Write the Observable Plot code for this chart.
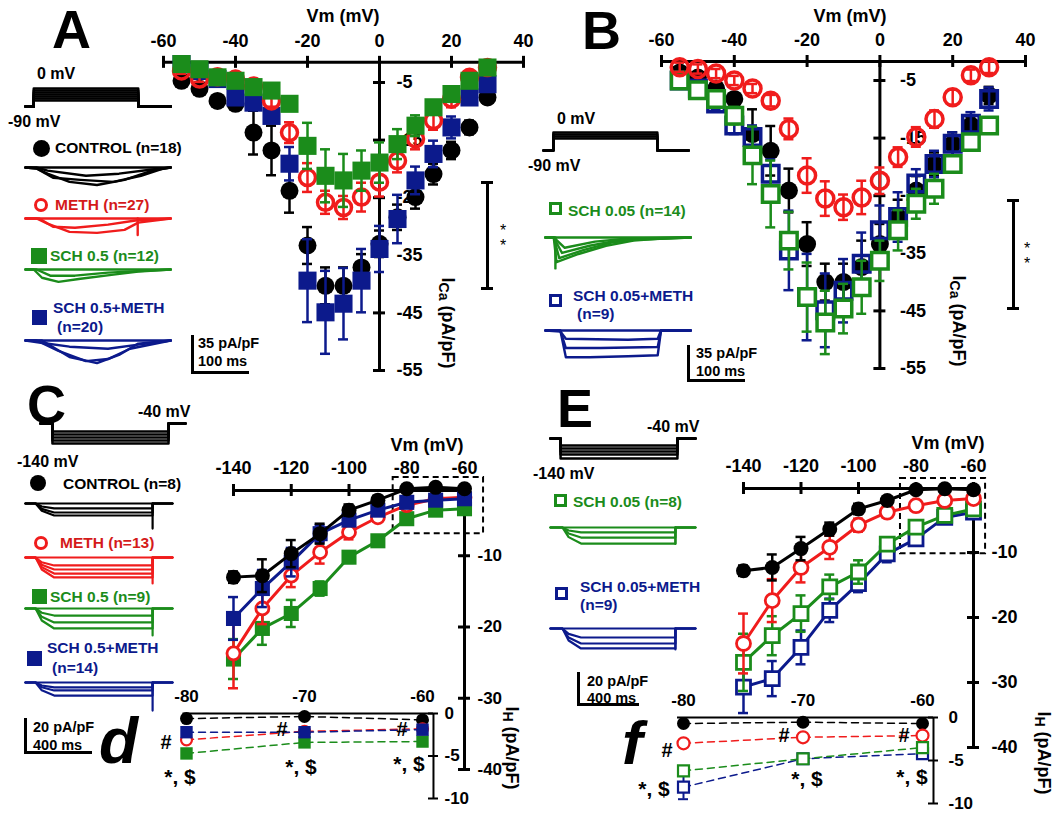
<!DOCTYPE html>
<html><head><meta charset="utf-8">
<script src="https://cdn.jsdelivr.net/npm/d3@7"></script>
<script src="https://cdn.jsdelivr.net/npm/@observablehq/plot@0.6"></script>
<style>
body{margin:0;background:#fff;}
#fig{position:relative;width:1063px;height:815px;overflow:hidden;font-family:"Liberation Sans",Arial,sans-serif;font-weight:bold;background:#fff;}
#fig svg{position:absolute;left:0;top:0;}
.lbl{position:absolute;white-space:nowrap;line-height:1;}
.lbl sub{font-size:0.78em;vertical-align:-0.25em;}
.blk{position:absolute;background:#000;}
</style></head><body><div id="fig"></div><script>
// ---------------- DATA ----------------
const vIV = [-55,-50,-45,-40,-35,-30,-25,-20,-15,-10,-5,0,5,10,15,20,25,30];
// Panel A (I_Ca, pA/pF)
const A_ctrl    = [-4.7,-6.1,-8.2,-8.7,-13.7,-16.8,-23.8,-33.3,-40.3,-40.3,-37.1,-33.0,-28.4,-24.9,-20.9,-16.8,-12.8,-7.6];
const A_ctrl_se = [0.4,0.4,0.6,0.8,3.8,4.3,3.8,3.2,3.2,3.2,2.3,2.3,2.2,2.0,1.8,1.5,1.2,1.0];
const A_meth    = [-3.0,-4.4,-4.0,-4.4,-5.6,-8.2,-13.7,-21.5,-25.8,-26.7,-24.9,-22.3,-18.6,-14.8,-11.6,-7.9,-4.1,-2.4];
const A_meth_se = [0.5,0.5,0.6,0.6,0.8,1.0,1.8,2.5,2.0,2.0,2.5,2.5,2.0,1.8,1.6,1.4,1.0,1.0];
const A_sch     = [-1.8,-2.7,-4.1,-4.7,-5.8,-6.4,-8.7,-16.0,-21.2,-22.0,-20.3,-18.9,-15.7,-12.5,-9.3,-7.0,-4.7,-2.4];
const A_sch_se  = [0.3,0.3,0.4,0.5,0.5,0.6,0.8,4.0,4.6,4.6,3.5,3.5,2.6,1.8,1.2,1.0,0.8,0.6];
const A_schm    = [-1.8,-3.0,-4.4,-7.6,-8.5,-10.8,-19.1,-39.4,-44.9,-43.4,-39.4,-33.9,-28.7,-22.0,-17.4,-12.8,-7.6,-5.3];
const A_schm_se = [0.3,0.5,0.6,0.8,1.0,1.2,2.9,7.2,7.2,6.2,5.5,4.0,4.2,2.4,2.3,1.9,1.2,1.0];
// Panel B
const B_ctrl    = [-3.6,-4.5,-6.4,-8.2,-14.3,-17.2,-24.1,-33.4,-40.0,-40.0,-37.4,-33.4,-28.7,-24.1,-19.5,-16.0,-12.8,-7.6];
const B_ctrl_se = [0.5,0.5,0.8,1.0,4.3,4.3,3.8,3.8,3.2,3.2,4.6,3.5,3.0,2.5,2.0,2.0,1.5,1.5];
const B_meth    = [-2.7,-3.0,-3.8,-5.0,-6.4,-8.5,-13.4,-21.5,-25.5,-27.0,-25.3,-22.4,-18.3,-14.8,-11.7,-7.9,-4.1,-2.7];
const B_meth_se = [0.8,0.8,0.8,0.8,0.8,1.0,1.8,3.0,3.0,2.2,2.9,2.3,1.7,1.7,1.5,1.3,1.0,1.0];
const B_sch     = [-5.0,-6.7,-8.2,-11.1,-18.0,-24.7,-32.8,-42.6,-47.0,-44.6,-40.9,-36.3,-31.0,-26.4,-23.8,-19.5,-15.7,-12.8];
const B_sch_se  = [0.5,0.8,1.0,1.5,5.0,5.8,5.0,6.0,5.5,4.3,4.6,3.5,3.5,2.6,2.6,1.5,1.2,1.0];
const B_schm    = [-5.0,-6.4,-9.0,-12.8,-14.8,-21.2,-34.5,-42.6,-44.9,-41.5,-36.8,-31.0,-28.7,-22.9,-19.5,-16.0,-12.5,-8.2];
const B_schm_se = [0.5,0.8,1.0,1.5,2.0,2.5,6.9,7.5,6.4,5.5,5.4,4.3,4.3,2.5,2.3,2.0,2.0,2.0];
// Panels C and E (I_H, pA/pF)
const vH = [-140,-130,-120,-110,-100,-90,-80,-70,-60];
const C_ctrl    = [-13.0,-12.8,-9.7,-6.9,-3.6,-2.2,-0.6,-0.4,-0.6];
const C_ctrl_se = [0.8,2.3,1.9,1.4,0.8,0.6,0.4,0.4,0.4];
const C_meth    = [-23.7,-17.4,-12.8,-9.5,-6.7,-4.6,-2.9,-2.0,-1.8];
const C_meth_se = [4.9,2.2,1.6,1.6,1.0,0.6,0.5,0.5,0.5];
const C_sch     = [-24.5,-20.2,-18.1,-14.6,-10.2,-7.9,-4.8,-3.6,-3.4];
const C_sch_se  = [2.8,2.3,1.9,1.0,0.8,0.6,0.5,0.5,0.5];
const C_schm    = [-18.8,-14.6,-10.9,-6.9,-5.0,-3.6,-2.5,-2.2,-2.0];
const C_schm_se = [3.0,2.6,2.0,1.2,0.8,0.6,0.5,0.5,0.5];
const E_ctrl    = [-12.8,-12.3,-9.4,-6.4,-3.3,-2.0,-0.35,-0.2,-0.35];
const E_ctrl_se = [0.8,2.0,1.8,1.0,0.8,0.5,0.3,0.3,0.3];
const E_meth    = [-24.0,-17.4,-12.3,-9.2,-5.8,-3.8,-2.8,-2.0,-1.7];
const E_meth_se = [4.6,3.3,2.3,1.8,1.0,0.8,0.6,0.5,0.5];
const E_sch     = [-26.9,-22.8,-19.4,-15.3,-13.0,-8.7,-6.1,-4.3,-3.3];
const E_sch_se  = [4.4,3.0,2.8,1.9,1.8,1.0,0.8,0.6,0.5];
const E_schm    = [-30.7,-29.4,-24.6,-18.9,-14.8,-10.2,-7.9,-4.6,-3.8];
const E_schm_se = [4.0,2.7,2.6,1.8,1.3,1.3,0.8,0.5,0.5];
// Insets d and f
const vIn = [-80,-70,-60];
const d_ctrl = [-0.6,-0.35,-0.75], d_meth = [-3.1,-2.1,-1.8], d_sch = [-4.7,-3.4,-3.3], d_schm = [-2.2,-2.2,-1.9];
const f_ctrl = [-0.7,-0.55,-0.7], f_meth = [-3.0,-2.3,-2.1], f_sch = [-6.2,-4.8,-3.5], f_schm = [-8.1,-4.8,-4.2], f_schm_se = [1.4,0,0];
// Tick values
const ticksIVx = [-60,-40,-20,0,20,40], ticksIVy = [-5,-15,-25,-35,-45,-55];
const ticksHx = [-140,-120,-100,-80,-60], ticksHy = [-10,-20,-30,-40];
const ticksInY = [0,-5,-10];
// zoom boxes (data coords) marking the inset regions
const boxC = [{x1:-84.7,x2:-53.4,y1:1.0,y2:-6.9}];
const boxE = [{x1:-85.4,x2:-55.8,y1:1.4,y2:-10.2}];
// Current traces, [time ms, current pA/pF]
const trA_ctrl = [[[0,0],[20,-1],[40,-6],[80,-14],[130,-17],[180,-12],[230,-3],[264,0]],
                  [[0,0],[20,-1],[50,-10],[100,-12],[160,-14],[210,-8],[250,-1],[264,0]],
                  [[0,0],[20,0],[40,-3],[110,-8],[170,-6],[230,-2],[264,0]],
                  [[0,0],[264,0]]];
const trA_meth = [[[0,0],[20,0],[40,-5],[80,-13],[130,-14],[180,-11],[205,-4],[264,0]],
                  [[0,0],[25,0],[50,-8],[90,-9],[150,-6],[200,-2],[264,0]],
                  [[0,0],[264,0]],[[204,0],[204,-16]]];
const trA_sch  = [[[0,0],[15,0],[30,-8],[60,-12],[100,-9],[160,-5],[205,-2],[264,0]],
                  [[0,0],[20,0],[45,-6],[90,-6],[150,-3],[264,0]],
                  [[0,0],[264,0]]];
const trA_schm = [[[0,0],[20,0],[60,-10],[110,-20],[150,-18],[190,-8],[264,0]],
                  [[0,0],[30,0],[80,-16],[130,-22],[170,-14],[205,-3],[264,0]],
                  [[0,0],[25,-2],[80,-6],[150,-8],[205,-4],[264,0]],
                  [[0,0],[264,0]]];
const trB_sch  = [[[0,0],[15,0],[20,-24],[60,-16],[110,-8],[160,-3],[210,-1],[264,0]],
                  [[0,0],[15,0],[25,-20],[70,-12],[120,-5],[180,-1],[264,0]],
                  [[0,0],[15,0],[30,-15],[80,-8],[130,-3],[264,0]],
                  [[0,0],[15,0],[35,-10],[90,-4],[150,-1],[264,0]],
                  [[0,0],[264,0]],[[18,0],[18,-30]]];
const trB_schm = [[[0,0],[27,0],[37,-26],[80,-26],[150,-25],[204,-24],[210,0],[264,0]],
                  [[0,0],[27,0],[37,-17],[100,-17],[204,-16],[210,0],[264,0]],
                  [[0,0],[27,-1],[37,-8],[150,-9],[204,-8],[210,0],[264,0]],
                  [[0,0],[264,0]]];
// I_H traces: sustained levels (pA/pF) between step on/off (ms)
const trC_ctrl = {levels:[0,-3.3,-6,-8], on:65, off:820, T:948, spike:-16.7};
const trC_meth = {levels:[0,-5.3,-8,-10.7,-13.3], on:65, off:820, T:948, spike:-17.3};
const trC_sch  = {levels:[0,-4.7,-9.3,-13.3], on:65, off:820, T:948, spike:-18};
const trC_schm = {levels:[0,-3.3,-5.3,-8.7], on:65, off:820, T:948, spike:-18.7};
const trE_sch  = {levels:[0,-3.3,-6.7,-10.7], on:77, off:806, T:935, spike:-11};
const trE_schm = {levels:[0,-6,-10,-13.3], on:77, off:806, T:935, spike:-14};
// Voltage protocols (mV)
const protA = {hold:-90, levels:[0,-10,-20,-30,-40,-50,-60], on:15, off:205, T:264};
const protB = {hold:-90, levels:[0,-10,-20,-30], on:18, off:207, T:264};
const protC = {hold:-40, levels:[-80,-95,-110,-125,-140], on:77, off:826, T:935};
const protE = {hold:-40, levels:[-75,-90,-105,-120,-140], on:65, off:819, T:935};

// ---------------- HELPERS ----------------
const RED="#f01c1c", REDT="#d41a1a", GREEN="#1b8c1b", BLUE="#0c1a8c";
const FONT='"Liberation Sans", Arial, sans-serif';
const fig = document.getElementById("fig");
function addPlot(o){
  const svg = Plot.plot({
    width:1063, height:815, margin:0,
    style:{background:"transparent", overflow:"visible", fontFamily:FONT, position:"absolute", left:"0px", top:"0px"},
    x:{...o.x, axis:null}, y:{...o.y, axis:null}, marks:o.marks
  });
  fig.appendChild(svg);
}
function rows(xs, ys, es){ return xs.map((x,i)=>({x, y:ys[i], e: es ? es[i] : 0})); }
function series(data, s){
  const m=[];
  if (s.line) m.push(Plot.line(data,{x:"x",y:"y",stroke:s.color,strokeWidth:s.lw||3,strokeDasharray:s.dash}));
  const eb = data.filter(d=>d.e>0), ew = s.ew||2.5, cap = s.cap||5;
  m.push(Plot.ruleX(eb,{x:"x",y1:d=>d.y-d.e,y2:d=>d.y+d.e,stroke:s.color,strokeWidth:ew}));
  for (const sg of [-1,1]) m.push(Plot.ruleY(eb,{y:d=>d.y+sg*d.e,x1:"x",x2:"x",insetLeft:-cap,insetRight:-cap,stroke:s.color,strokeWidth:ew}));
  m.push(Plot.dot(data,{x:"x",y:"y",r:s.r,symbol:s.sym||"circle",fill:s.fill,stroke:s.stroke||"none",strokeWidth:s.sw||0}));
  return m;
}
function axes(o){
  const {xt,v0,x0,x1,yx,yt,yb,sw=3,tk=6,fs=18,yfs=18,xdy=-21,ydx=18} = o;
  return [
    Plot.ruleY([v0],{x1:x0,x2:x1,strokeWidth:sw}),
    Plot.ruleX(xt,{x:d=>d,y1:v0,y2:v0,insetTop:-tk,insetBottom:-tk,strokeWidth:sw}),
    Plot.text(xt,{x:d=>d,y:v0,dy:xdy,text:d=>String(d),fontSize:fs,fontWeight:"bold"}),
    Plot.ruleX([yx],{y1:v0,y2:yb,strokeWidth:sw}),
    Plot.ruleY(yt,{y:d=>d,x1:yx,x2:yx,insetLeft:-tk,insetRight:-tk,strokeWidth:sw}),
    Plot.text(yt,{x:yx,y:d=>d,dx:ydx,textAnchor:"start",text:d=>String(d),fontSize:yfs,fontWeight:"bold"})
  ];
}
function traces(list, color, x0, base, kx, ky, T, sw=2.4){
  const pts = list.flatMap((tr,k)=>tr.map(([t,i])=>({t,i,k})));
  addPlot({x:{domain:[0,T],range:[x0,x0+T*kx]}, y:{domain:[0,-1],range:[base,base+ky]},
    marks:[Plot.line(pts,{x:"t",y:"i",z:"k",stroke:color,strokeWidth:sw})]});
}
function stepTraces(s){
  const list = s.levels.map(L=>[[0,0],[s.on,0],[s.on+40,L*0.6],[s.on+120,L],[s.off,L],[s.off,0],[s.T,0]]);
  list.push([[s.off,0],[s.off,s.spike]]);
  return list;
}
function protocol(p, x0, yHold, kx, kv, sw=2.5){
  const pts = p.levels.flatMap((L,k)=>[[0,p.hold],[p.on,p.hold],[p.on,L],[p.off,L],[p.off,p.hold],[p.T,p.hold]].map(([t,v])=>({t,v,k})));
  addPlot({x:{domain:[0,p.T],range:[x0,x0+p.T*kx]}, y:{domain:[p.hold,p.hold+1],range:[yHold,yHold-kv]},
    marks:[Plot.line(pts,{x:"t",y:"v",z:"k",stroke:"#000",strokeWidth:sw})]});
}
function L(html,x,y,o={}){
  const d=document.createElement("div"); d.className="lbl"; d.innerHTML=html;
  const s=d.style; s.left=x+"px"; s.top=y+"px"; s.fontSize=(o.fs||15.5)+"px"; s.color=o.c||"#000";
  if(o.it) s.fontStyle="italic"; if(o.w) s.fontWeight=o.w;
  const ax=o.a==="middle"?"-50%":o.a==="end"?"-100%":"0";
  s.transform=`translate(${ax},-50%)`+(o.rot?` rotate(${o.rot}deg)`:"");
  fig.appendChild(d);
}
function box(x,y,w,h,bg){ const d=document.createElement("div"); d.className="blk"; Object.assign(d.style,{left:x+"px",top:y+"px",width:w+"px",height:h+"px"}); if(bg) d.style.background=bg; fig.appendChild(d); return d; }
function marker(cx,cy,size,o){
  const d=document.createElement("div"); const bw=o.bw||0;
  Object.assign(d.style,{position:"absolute",left:(cx-size/2)+"px",top:(cy-size/2)+"px",width:(size-2*bw)+"px",height:(size-2*bw)+"px",
    background:o.fill||"transparent",border:bw?`${bw}px solid ${o.stroke}`:"none",borderRadius:o.circle?"50%":"0"});
  fig.appendChild(d);
}
function bracket(x,y1,y2,cap=6,w=3){ box(x-w/2,y1,w,y2-y1); box(x-cap,y1-w/2,2*cap,w); box(x-cap,y2-w/2,2*cap,w); }
function scaleBar(x,yTop,yBot,xRight,w=3){ box(x-w/2,yTop,w,yBot-yTop); box(x-w/2,yBot-w/2,xRight-x,w); }

// ---------------- PANEL A ----------------
addPlot({x:{domain:[-60,40],range:[163,523]}, y:{domain:[0,-55],range:[53.2,370]},
  marks:[
    ...axes({xt:ticksIVx,v0:-1.5,x0:-60,x1:40,yx:0,yt:ticksIVy,yb:-55,ydx:17}),
    ...series(rows(vIV,A_ctrl,A_ctrl_se),{color:"#000",r:9,fill:"#000"}),
    ...series(rows(vIV,A_schm,A_schm_se),{color:BLUE,r:10.2,sym:"square",fill:BLUE}),
    ...series(rows(vIV,A_meth,A_meth_se),{color:RED,r:8,fill:"none",stroke:RED,sw:3.5}),
    ...series(rows(vIV,A_sch,A_sch_se),{color:GREEN,r:10.2,sym:"square",fill:GREEN})
  ]});
protocol(protA,25,106,0.55,0.2);
traces(trA_ctrl,"#000",25,167,0.55,1.03,264);
traces(trA_meth,RED,25,218,0.55,1.03,264);
traces(trA_sch,GREEN,25,269,0.55,1.03,264);
traces(trA_schm,BLUE,25,340,0.55,1.03,264);
L("A",52,29,{fs:54});
L("0 mV",37,74,{fs:16}); L("-90 mV",8,122,{fs:16});
marker(41,148,17,{fill:"#000",circle:true}); L("CONTROL (n=18)",55,148);
marker(41,205,15,{stroke:RED,bw:3.5,circle:true}); L("METH (n=27)",55,205,{c:REDT});
marker(38.5,255.5,16,{fill:GREEN}); L("SCH 0.5 (n=12)",50,256,{c:GREEN});
marker(39.5,317.5,15,{fill:BLUE}); L("SCH 0.5+METH",53,308,{c:BLUE}); L("(n=20)",57,327,{c:BLUE});
scaleBar(192,335,372,250); L("35 pA/pF",198,343,{fs:14.5}); L("100 ms",198,361,{fs:14.5});
L("Vm (mV)",343,16,{fs:18,a:"middle"});
L("I<sub>Ca</sub> (pA/pF)",447,323,{fs:18,a:"middle",rot:90});
bracket(487,182,288); L("*",503,231,{fs:16,w:"normal",a:"middle"}); L("*",503,246,{fs:16,w:"normal",a:"middle"});

// ---------------- PANEL B ----------------
addPlot({x:{domain:[-60,40],range:[661,1025]}, y:{domain:[0,-55],range:[51.2,368]},
  marks:[
    ...axes({xt:ticksIVx,v0:-1.7,x0:-60,x1:40,yx:0,yt:ticksIVy,yb:-55,ydx:20}),
    ...series(rows(vIV,B_ctrl,B_ctrl_se),{color:"#000",r:9,fill:"#000"}),
    ...series(rows(vIV,B_schm,B_schm_se),{color:BLUE,r:9.3,sym:"square",fill:"none",stroke:BLUE,sw:3.5}),
    ...series(rows(vIV,B_sch,B_sch_se),{color:GREEN,r:9.3,sym:"square",fill:"white",stroke:GREEN,sw:3.5}),
    ...series(rows(vIV,B_meth,B_meth_se),{color:RED,r:8.5,fill:"none",stroke:RED,sw:3.5})
  ]});
protocol(protB,543,150,0.55,0.2);
traces(trB_sch,GREEN,545,237,0.55,1.03,264);
traces(trB_schm,BLUE,545,330,0.55,1.03,264);
L("B",582,30,{fs:54});
L("0 mV",557,119,{fs:16}); L("-90 mV",528,166,{fs:16});
marker(556,209,14,{stroke:GREEN,bw:3.5}); L("SCH 0.05 (n=14)",568,211,{c:GREEN});
marker(556,301,14,{stroke:BLUE,bw:3.5}); L("SCH 0.05+METH",573,296,{c:BLUE}); L("(n=9)",577,314,{c:BLUE});
scaleBar(688,345,380,746); L("35 pA/pF",696,353,{fs:14.5}); L("100 ms",696,371,{fs:14.5});
L("Vm (mV)",850,16,{fs:18,a:"middle"});
L("I<sub>Ca</sub> (pA/pF)",958,321,{fs:18,a:"middle",rot:90});
bracket(1013,200,308); L("*",1027,249,{fs:16,w:"normal",a:"middle"}); L("*",1027,264,{fs:16,w:"normal",a:"middle"});

// ---------------- PANEL C ----------------
addPlot({x:{domain:[-140,-60],range:[233,464]}, y:{domain:[0,-40],range:[484,769]},
  marks:[
    ...axes({xt:ticksHx,v0:-0.84,x0:-140,x1:-60,yx:-60,yt:ticksHy,yb:-40,ydx:13,yfs:17,xdy:-22}),
    Plot.rect(boxC,{x1:"x1",x2:"x2",y1:"y1",y2:"y2",fill:"none",stroke:"#000",strokeWidth:2,strokeDasharray:"6,4"}),
    ...series(rows(vH,C_sch,C_sch_se),{color:GREEN,r:8.5,sym:"square",fill:GREEN,line:true}),
    ...series(rows(vH,C_meth,C_meth_se),{color:RED,r:6.5,fill:"white",stroke:RED,sw:2.8,line:true}),
    ...series(rows(vH,C_schm,C_schm_se),{color:BLUE,r:8.5,sym:"square",fill:BLUE,line:true}),
    ...series(rows(vH,C_ctrl,C_ctrl_se),{color:"#000",r:7.5,fill:"#000",line:true})
  ]});
// inset d
addPlot({x:{domain:[-80,-60],range:[186,422]}, y:{domain:[0,-10],range:[713,798]},
  marks:[
    Plot.ruleY([0],{x1:-80.3,x2:-59.07,strokeWidth:2}),
    Plot.text(vIn,{x:d=>d,y:0,dy:-17,text:d=>String(d),fontSize:17,fontWeight:"bold"}),
    Plot.ruleX([-59.07],{y1:0,y2:-10,strokeWidth:2}),
    Plot.ruleY(ticksInY,{y:d=>d,x1:-59.07,x2:-59.07,insetLeft:-5,insetRight:-5,strokeWidth:2}),
    Plot.text(ticksInY,{x:-59.07,y:d=>d,dx:11,textAnchor:"start",text:d=>String(d),fontSize:17,fontWeight:"bold"}),
    ...series(rows(vIn,d_ctrl),{color:"#000",r:6.5,fill:"#000",line:true,lw:1.5,dash:"7,5"}),
    ...series(rows(vIn,d_sch),{color:GREEN,r:7,sym:"square",fill:GREEN,line:true,lw:1.5,dash:"7,5"}),
    ...series(rows(vIn,d_meth),{color:RED,r:5.5,fill:"white",stroke:RED,sw:2.2,line:true,lw:1.5,dash:"7,5"}),
    ...series(rows(vIn,d_schm),{color:BLUE,r:7,sym:"square",fill:BLUE,line:true,lw:1.5,dash:"7,5"})
  ]});
protocol(protC,40,423,0.155,0.2);
traces(stepTraces(trC_ctrl),"#000",25,503,0.155,1.5,948,2.2);
traces(stepTraces(trC_meth),RED,25,557,0.155,1.5,948,2.2);
traces(stepTraces(trC_sch),GREEN,25,608,0.155,1.5,948,2.2);
traces(stepTraces(trC_schm),BLUE,25,682,0.155,1.5,948,2.2);
L("C",27,404,{fs:54});
L("-40 mV",138,412,{fs:16}); L("-140 mV",17,462,{fs:16});
marker(38,483,16,{fill:"#000",circle:true}); L("CONTROL (n=8)",63,484);
marker(41,543,15,{stroke:RED,bw:3.5,circle:true}); L("METH (n=13)",60,543,{c:REDT});
marker(39.5,596.5,15,{fill:GREEN}); L("SCH 0.5 (n=9)",50,597,{c:GREEN});
marker(34.5,658.5,15,{fill:BLUE}); L("SCH 0.5+METH",47,648,{c:BLUE}); L("(n=14)",52,668,{c:BLUE});
scaleBar(25,718,752,93); L("20 pA/pF",33,727,{fs:14.5}); L("400 ms",33,745,{fs:14.5});
L("Vm (mV)",427,445,{fs:18,a:"middle"});
L("I<sub>H</sub> (pA/pF)",511,748,{fs:18,a:"middle",rot:90});
L("d",99,741,{fs:64,it:true});
L("#",166,742,{fs:20,a:"middle"}); L("*, $",180,776,{fs:21,a:"middle"});
L("#",282,729,{fs:20,a:"middle"}); L("*, $",301,766,{fs:21,a:"middle"});
L("#",402,729,{fs:20,a:"middle"}); L("*, $",409,763,{fs:21,a:"middle"});

// ---------------- PANEL E ----------------
addPlot({x:{domain:[-140,-60],range:[743,973]}, y:{domain:[0,-40],range:[487,747]},
  marks:[
    ...axes({xt:ticksHx,v0:-0.15,x0:-140,x1:-60,yx:-60,yt:ticksHy,yb:-40,ydx:18,xdy:-22}),
    Plot.rect(boxE,{x1:"x1",x2:"x2",y1:"y1",y2:"y2",fill:"none",stroke:"#000",strokeWidth:2,strokeDasharray:"6,4"}),
    ...series(rows(vH,E_schm,E_schm_se),{color:BLUE,r:7.9,sym:"square",fill:"white",stroke:BLUE,sw:2.8,line:true}),
    ...series(rows(vH,E_sch,E_sch_se),{color:GREEN,r:7.9,sym:"square",fill:"white",stroke:GREEN,sw:2.8,line:true}),
    ...series(rows(vH,E_meth,E_meth_se),{color:RED,r:7,fill:"white",stroke:RED,sw:2.8,line:true}),
    ...series(rows(vH,E_ctrl,E_ctrl_se),{color:"#000",r:7.5,fill:"#000",line:true})
  ]});
// inset f
addPlot({x:{domain:[-80,-60],range:[683,922]}, y:{domain:[0,-10],range:[717,803]},
  marks:[
    Plot.ruleY([0],{x1:-80.5,x2:-59.08,strokeWidth:2}),
    Plot.text(vIn,{x:d=>d,y:0,dy:-17,text:d=>String(d),fontSize:17,fontWeight:"bold"}),
    Plot.ruleX([-59.08],{y1:0,y2:-10,strokeWidth:2}),
    Plot.ruleY(ticksInY,{y:d=>d,x1:-59.08,x2:-59.08,insetLeft:-5,insetRight:-5,strokeWidth:2}),
    Plot.text(ticksInY,{x:-59.08,y:d=>d,dx:15,textAnchor:"start",text:d=>String(d),fontSize:17,fontWeight:"bold"}),
    ...series(rows(vIn,f_ctrl),{color:"#000",r:6.5,fill:"#000",line:true,lw:1.5,dash:"7,5"}),
    ...series(rows(vIn,f_meth),{color:RED,r:6,fill:"white",stroke:RED,sw:2.2,line:true,lw:1.5,dash:"7,5"}),
    ...series(rows(vIn,f_schm,f_schm_se),{color:BLUE,r:6.2,sym:"square",fill:"white",stroke:BLUE,sw:2.2,line:true,lw:1.5,dash:"7,5",ew:2}),
    ...series(rows(vIn,f_sch),{color:GREEN,r:6.2,sym:"square",fill:"white",stroke:GREEN,sw:2.2,line:true,lw:1.5,dash:"7,5"})
  ]});
protocol(protE,550,438,0.155,0.2);
traces(stepTraces(trE_sch),GREEN,550,527,0.155,1.5,935,2.2);
traces(stepTraces(trE_schm),BLUE,550,628,0.155,1.5,935,2.2);
L("E",557,408,{fs:54});
L("-40 mV",647,427,{fs:16}); L("-140 mV",533,474,{fs:16});
marker(561,501,14,{stroke:GREEN,bw:3.5}); L("SCH 0.05 (n=8)",573,502,{c:GREEN});
marker(562,594,14,{stroke:BLUE,bw:3.5}); L("SCH 0.05+METH",580,587,{c:BLUE}); L("(n=9)",580,605,{c:BLUE});
scaleBar(578,672,704,640); L("20 pA/pF",587,681,{fs:14.5}); L("400 ms",587,698,{fs:14.5});
L("Vm (mV)",948,443,{fs:18,a:"middle"});
L("I<sub>H</sub> (pA/pF)",1043,753,{fs:18,a:"middle",rot:90});
L("f",622,743,{fs:62,it:true});
L("#",667,750,{fs:20,a:"middle"}); L("*, $",654,788,{fs:21,a:"middle"});
L("#",784,735,{fs:20,a:"middle"}); L("*, $",807,778,{fs:21,a:"middle"});
L("#",904,735,{fs:20,a:"middle"}); L("*, $",912,776,{fs:21,a:"middle"});
</script></body></html>
